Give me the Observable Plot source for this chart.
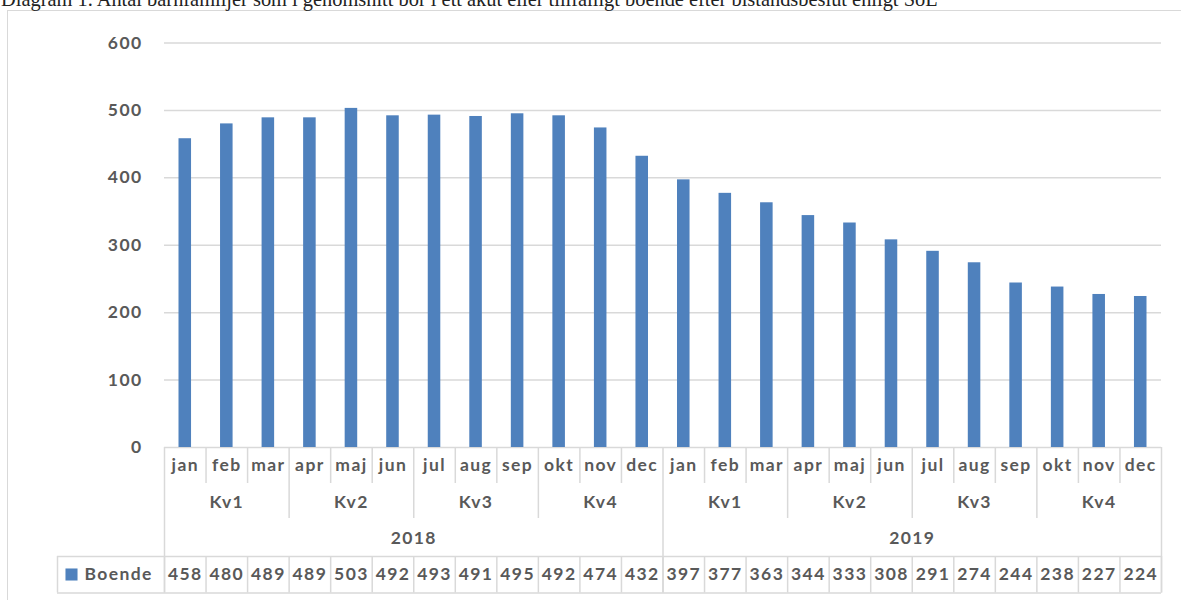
<!DOCTYPE html>
<html>
<head>
<meta charset="utf-8">
<script src="https://cdn.jsdelivr.net/npm/d3@7"></script>
<script src="https://cdn.jsdelivr.net/npm/@observablehq/plot@0.6"></script>
<style>
  html, body { margin: 0; padding: 0; background: #fff; overflow: hidden; }
  #wrap { position: relative; width: 1181px; height: 600px; overflow: hidden; }
  #title { position: absolute; left: 1px; top: -11.5px; font-family: "Liberation Serif", serif; font-size: 20.4px; line-height: 1; color: #222; white-space: nowrap; z-index: 2; }
  #border { position: absolute; left: 7px; top: 10px; width: 1300px; height: 700px; border-left: 1.5px solid #d9d9d9; border-top: 1.5px solid #d9d9d9; z-index: 1; pointer-events: none; }
  #chart svg text { letter-spacing: 1.4px; }
</style>
</head>
<body>
<div id="wrap">
  <div id="chart"></div>
  <div id="border"></div>
  <div id="title">Diagram 1. Antal barnfamiljer som i genomsnitt bor i ett akut eller tillfälligt boende efter biståndsbeslut enligt SoL</div>
</div>
<script>
// ---- data ----
const years = ["2018", "2019"];
const quarters = ["Kv1", "Kv2", "Kv3", "Kv4"];
const months = ["jan", "feb", "mar", "apr", "maj", "jun", "jul", "aug", "sep", "okt", "nov", "dec"];
const boende2018 = [458, 480, 489, 489, 503, 492, 493, 491, 495, 492, 474, 432];
const boende2019 = [397, 377, 363, 344, 333, 308, 291, 274, 244, 238, 227, 224];
const seriesName = "Boende";
const yTicks = [0, 100, 200, 300, 400, 500, 600];

// ---- table built from the arrays ----
const series = [boende2018, boende2019];
const rows = [];
years.forEach((yr, yi) => months.forEach((m, mi) => rows.push({
  i: yi * 12 + mi, year: yr, month: m, quarter: quarters[Math.floor(mi / 3)], value: series[yi][mi]
})));
const quarterRows = [];
years.forEach((yr, yi) => quarters.forEach((q, qi) => quarterRows.push({ i: yi * 12 + qi * 3, label: q })));
const yearRows = years.map((yr, yi) => ({ i: yi * 12, label: yr }));
const n = rows.length;

// ---- layout ----
const W = 1181, H = 600;
const mL = 164, mR = 20, mT = 42.5, zeroPx = 447, bottomPx = 592.5;
const unitPerPx = 600 / (zeroPx - mT);
const u = px => -px * unitPerPx;            // pixel offset below the zero line -> y units
const bandPx = (W - mL - mR) / n;
const xu = px => (px - mL) / bandPx;        // absolute pixel -> x units

const grey = "#d9d9d9", txt = "#595959", blue = "#4f81bd";
const bounds = d3.range(0, n + 1);
const isYear = b => b % 12 === 0;
const isQuarter = b => b % 3 === 0;

const chart = Plot.plot({
  width: W, height: H,
  marginLeft: mL, marginRight: mR, marginTop: mT, marginBottom: H - bottomPx,
  style: { fontFamily: "Lato, sans-serif", fontWeight: "bold", fontSize: "17.5px", color: txt, background: "#fff" },
  x: { domain: [0, n], axis: null },
  y: { domain: [u(bottomPx - zeroPx), 600], ticks: yTicks, tickSize: 0, tickPadding: 22, label: null },
  marks: [
    Plot.ruleY(yTicks, { x1: 0, x2: n, stroke: grey, strokeWidth: 1.5 }),
    Plot.rectY(rows, { x1: d => d.i, x2: d => d.i + 1, y: "value", fill: blue, insetLeft: 14.5, insetRight: 14.5 }),
    // table rules
    Plot.ruleX(bounds, { x: d => d, y1: 0, y2: d => isYear(d) ? u(bottomPx - zeroPx) : isQuarter(d) ? u(71) : u(36), stroke: grey, strokeWidth: 1.5 }),
    Plot.ruleX(bounds, { x: d => d, y1: u(109), y2: u(bottomPx - zeroPx), stroke: grey, strokeWidth: 1.5 }),
    Plot.ruleX([xu(57)], { x: d => d, y1: u(109), y2: u(bottomPx - zeroPx), stroke: grey, strokeWidth: 1.5 }),
    Plot.ruleY([u(109), u(bottomPx - zeroPx)], { y: d => d, x1: xu(57), x2: n, stroke: grey, strokeWidth: 1.5 }),
    // table text
    Plot.text(rows, { x: d => d.i + 0.5, y: u(18), text: "month", fill: txt }),
    Plot.text(quarterRows, { x: d => d.i + 1.5, y: u(55), text: "label", fill: txt }),
    Plot.text(yearRows, { x: d => d.i + 6, y: u(91), text: "label", fill: txt }),
    Plot.text(rows, { x: d => d.i + 0.5, y: u(127), text: "value", fill: txt }),
    Plot.dot([seriesName], { x: xu(71), y: u(127), symbol: "square", r: 6.8, fill: blue, stroke: null }),
    Plot.text([seriesName], { x: xu(84), y: u(127), text: d => d, textAnchor: "start", fill: txt })
  ]
});
document.getElementById("chart").appendChild(chart);
</script>
</body>
</html>
